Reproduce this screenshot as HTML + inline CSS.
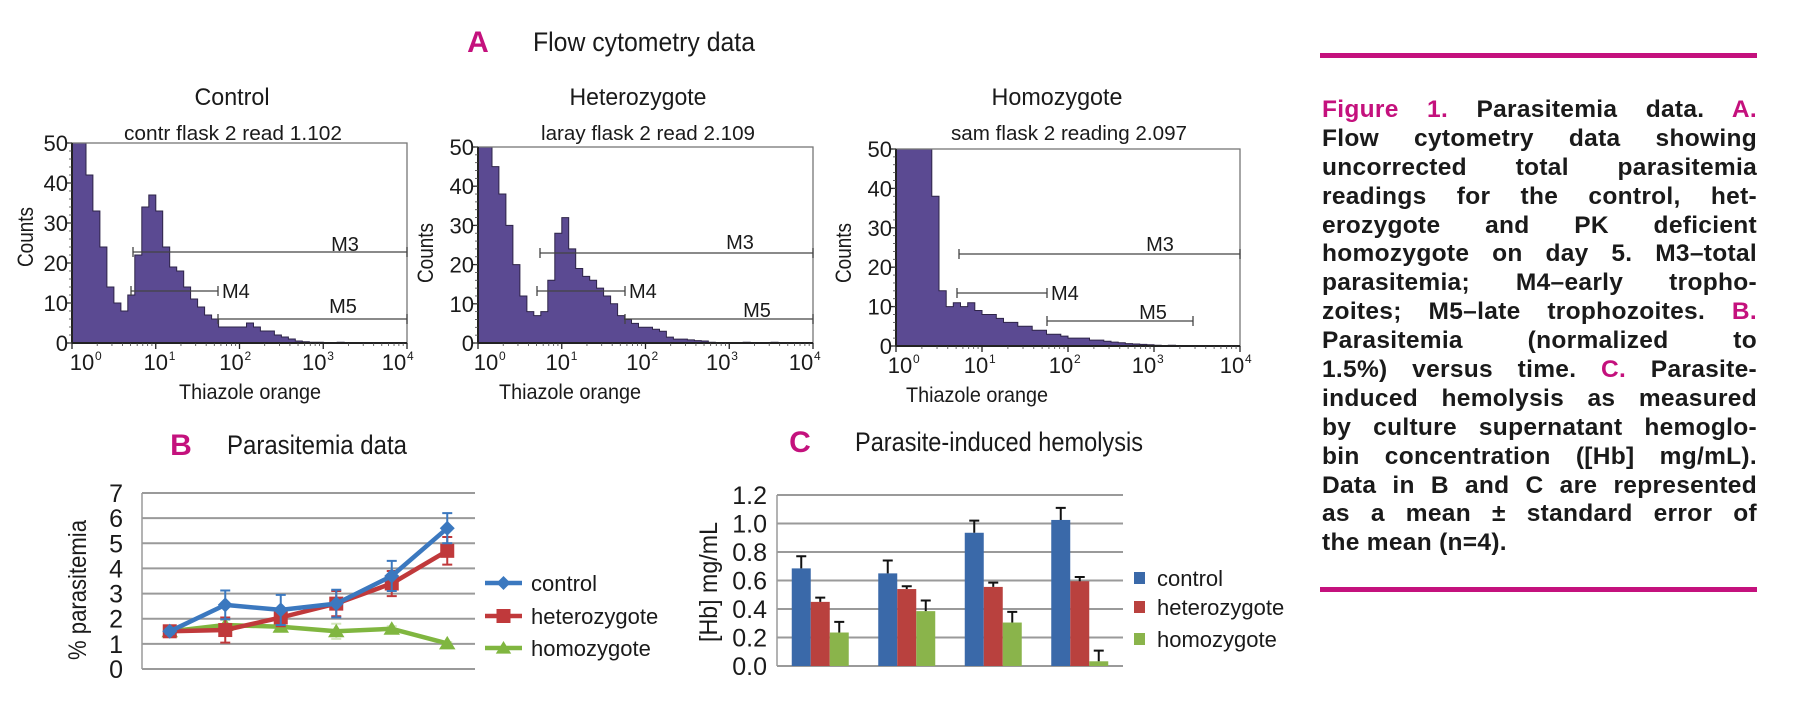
<!DOCTYPE html>
<html><head><meta charset="utf-8"><title>Figure 1 Parasitemia data</title>
<style>
html,body{margin:0;padding:0;background:#fff;}
body{width:1800px;height:717px;position:relative;overflow:hidden;}
svg{position:absolute;left:0;top:0;}
.t{font-family:"Liberation Sans Narrow","Liberation Sans",sans-serif;fill:#1a1a1a;}
#caption{position:absolute;left:1322px;top:96px;width:435px;font-family:"Liberation Sans",sans-serif;font-weight:bold;font-size:24.5px;letter-spacing:0.3px;color:#1a1a1a;}
#caption div{height:28.9px;line-height:28.9px;text-align:justify;text-align-last:justify;white-space:nowrap;}
#caption div.last{text-align-last:left;}
.m{color:#c4117d;}
.rule{position:absolute;left:1320px;width:437px;height:5px;background:#c4117d;}
</style></head>
<body>
<div class="rule" style="top:53px"></div>
<div class="rule" style="top:587px"></div>
<div id="caption">
<div><span class="m">Figure 1.</span> Parasitemia data. <span class="m">A.</span></div>
<div>Flow cytometry data showing</div>
<div>uncorrected total parasitemia</div>
<div>readings for the control, het-</div>
<div>erozygote and PK deficient</div>
<div>homozygote on day 5. M3–total</div>
<div>parasitemia; M4–early tropho-</div>
<div>zoites; M5–late trophozoites. <span class="m">B.</span></div>
<div>Parasitemia (normalized to</div>
<div>1.5%) versus time. <span class="m">C.</span> Parasite-</div>
<div>induced hemolysis as measured</div>
<div>by culture supernatant hemoglo-</div>
<div>bin concentration ([Hb] mg/mL).</div>
<div>Data in B and C are represented</div>
<div>as a mean ± standard error of</div>
<div class="last">the mean (n=4).</div>
</div>

<svg id="fig" width="1800" height="717" viewBox="0 0 1800 717" xmlns="http://www.w3.org/2000/svg">
<g>
<text class="t" x="478" y="52" font-size="30" font-weight="bold" style="fill:#c4117d" text-anchor="middle">A</text>
<text class="t" x="533" y="51" font-size="27" textLength="222" lengthAdjust="spacingAndGlyphs">Flow cytometry data</text>
</g>
<g>
<text class="t" x="181" y="455" font-size="30" font-weight="bold" style="fill:#c4117d" text-anchor="middle">B</text>
<text class="t" x="227" y="454" font-size="27" textLength="180" lengthAdjust="spacingAndGlyphs">Parasitemia data</text>
</g>
<g>
<text class="t" x="800" y="452" font-size="30" font-weight="bold" style="fill:#c4117d" text-anchor="middle">C</text>
<text class="t" x="855" y="451" font-size="27" textLength="288" lengthAdjust="spacingAndGlyphs">Parasite-induced hemolysis</text>
</g>
<g id="hists"></g>
<g id="chartB"></g>
<g id="chartC"></g>
</svg>

<script>
// ===== Panel A histogram data (counts per 1/12 decade bin, 10^0..10^4) =====
const histControl = [50,50,42,33,24,14,10,8,12,22,34,37, 33,24,19,18,14,11,9,7,6,4,4,4, 4,5,4,3,3,2,1.5,1,0.5,0.3,0.2,0.2, 0.1,0.1,0.2,0.1,0,0,0,0,0,0,0,0];
const histHetero  = [50,50,45,38,30,20,12,8,7,8,16,28, 32,24,19,17,16,14,12,10,7,6,5,4, 4,3.5,3,1.5,1,1,0.8,0.6,0.5,0.2,0.1,0.1, 0.1,0.1,0.2,0.1,0,0.1,0.2,0,0,0,0,0];
const histHomo    = [50,50,50,50,50,38,14,10,11,10,11,9, 8,8,7,6,6,5,5,4,4,3,3,2.5, 2,2,2,1.5,1.5,1.2,1,0.8,0.6,0.5,0.4,0.3, 0.2,0.1,0.2,0.1,0.1,0,0,0,0,0,0,0];
const histYTicks = [0,10,20,30,40,50];
const histXTicks = ["0","1","2","3","4"];

// ===== Panel B data =====
const daysB = ["d0","d1","d2","d3","d4","d5"];
const bControl = [1.5,2.55,2.35,2.6,3.7,5.6];
const bControlErr = [0.1,0.57,0.6,0.55,0.6,0.6];
const bHetero = [1.5,1.55,2.05,2.6,3.4,4.7];
const bHeteroErr = [0.1,0.5,0.35,0.5,0.5,0.55];
const bHomo = [1.5,1.75,1.68,1.5,1.6,1.02];
const bHomoErr = [0.1,0.2,0.15,0.3,0.1,0.05];
const bTicks = [0,1,2,3,4,5,6,7];
const bSeriesNames = ["control","heterozygote","homozygote"];

// ===== Panel C data =====
const groupsC = ["g1","g2","g3","g4"];
const cControl = [0.685,0.65,0.935,1.025];
const cControlErr = [0.085,0.09,0.085,0.085];
const cHetero = [0.45,0.54,0.555,0.595];
const cHeteroErr = [0.03,0.02,0.03,0.03];
const cHomo = [0.235,0.385,0.305,0.033];
const cHomoErr = [0.075,0.075,0.075,0.075];
const cTicks = ["0.0","0.2","0.4","0.6","0.8","1.0","1.2"];
const cSeriesNames = ["control","heterozygote","homozygote"];

const NS = "http://www.w3.org/2000/svg";
function mk(tag, attrs, parent){ const e=document.createElementNS(NS,tag); for(const k in attrs) e.setAttribute(k,attrs[k]); parent.appendChild(e); return e; }
function txt(parent, x, y, s, size, anchor, extra){ const e=mk("text",Object.assign({x:x,y:y,"font-size":size,"text-anchor":anchor||"start",class:"t"},extra||{}),parent); e.textContent=s; return e; }

// ---------- Histograms ----------
const hists = document.getElementById("hists");
const histCfg = [
 {name:"control", data:histControl, x0:72, x1:407, top:143, zero:343, title:"Control", tx:232, sub:"contr flask 2 read 1.102", sx:233, sw:218, tw:75, cx:25, cy:237, thx:250,
  m3:[133,407,252,345,244], m4:[131,218,291], m5:[218,407,319,343,306], xlOff:[14,4,-4,-5,-9]},
 {name:"heterozygote", data:histHetero, x0:478, x1:813, top:147, zero:343, title:"Heterozygote", tx:638, sub:"laray flask 2 read 2.109", sx:648, sw:214, tw:137, cx:425, cy:253, thx:570,
  m3:[540,813,253,740,242], m4:[537,625,291], m5:[625,813,319,757,310], xlOff:[12,0,-3,-7,-8]},
 {name:"homozygote", data:histHomo, x0:896, x1:1240, top:149, zero:346, title:"Homozygote", tx:1057, sub:"sam flask 2 reading 2.097", sx:1069, sw:236, tw:131, cx:843, cy:253, thx:977,
  m3:[959,1240,254,1160,244], m4:[957,1047,293], m5:[1047,1193,321,1153,312], xlOff:[8,-2,-3,-6,-4]}
];
histCfg.forEach(function(c){
  const g = mk("g",{},hists);
  
  
  const dec = (c.x1-c.x0)/4, bw = dec/12, ppc = (c.zero-c.top)/50;
  const tt = txt(g, c.tx, 105, c.title, 24, "middle", {textLength:c.tw, lengthAdjust:"spacingAndGlyphs"});
  
  
  const st = txt(g, c.sx, 140, c.sub, 20, "middle", {textLength:c.sw, lengthAdjust:"spacingAndGlyphs"});
  
  
  let d = "M"+c.x0+","+c.zero;
  c.data.forEach(function(v,i){
    const y = c.zero - Math.min(v,50)*ppc;
    d += " L"+(c.x0+i*bw).toFixed(1)+","+y.toFixed(1)+" L"+(c.x0+(i+1)*bw).toFixed(1)+","+y.toFixed(1);
  });
  d += " L"+c.x1+","+c.zero+" Z";
  const p = mk("path",{d:d, fill:"#5b4a92", stroke:"#2e2448", "stroke-width":"1"},g);
  
  
  const fr = mk("rect",{x:c.x0,y:c.top,width:c.x1-c.x0,height:c.zero-c.top,fill:"none",stroke:"#777","stroke-width":"1.3"},g);
  
  
  mk("line",{x1:c.x0,y1:c.top,x2:c.x0,y2:c.zero,stroke:"#222","stroke-width":"2"},g);
  mk("line",{x1:c.x0,y1:c.zero,x2:c.x1,y2:c.zero,stroke:"#222","stroke-width":"2"},g);
  histYTicks.forEach(function(t){
    const y = c.zero - t*ppc;
    const lb = txt(g, c.x0-4, y+8, String(t), 22, "end");
    
    
    mk("line",{x1:c.x0-5,y1:y,x2:c.x0,y2:y,stroke:"#222","stroke-width":"1.3"},g);
  });
  for(let t=0;t<=50;t+=2){ const y=c.zero-t*ppc; mk("line",{x1:c.x0-3,y1:y,x2:c.x0,y2:y,stroke:"#444","stroke-width":"0.8"},g); }
  histXTicks.forEach(function(t,i){
    const x = c.x0 + i*dec;
    mk("line",{x1:x,y1:c.zero,x2:x,y2:c.zero+6,stroke:"#222","stroke-width":"1.3"},g);
    const lb = txt(g, x + c.xlOff[i] - 4, c.zero+27, "10", 22, "middle");
    
    
    txt(g, x + c.xlOff[i] + 9, c.zero+17, t, 12, "start");
    if(i<4){ for(let k=2;k<10;k++){ const xm=x+Math.log10(k)*dec; mk("line",{x1:xm,y1:c.zero,x2:xm,y2:c.zero+3,stroke:"#444","stroke-width":"0.8"},g);} }
  });
  const xt = txt(g, c.thx, c.zero+56, "Thiazole orange", 21, "middle", {textLength:142, lengthAdjust:"spacingAndGlyphs"});
  
  
  const yt = txt(g, 0, 0, "Counts", 22, "middle", {transform:"translate("+(c.cx+8)+","+c.cy+") rotate(-90)", textLength:60, lengthAdjust:"spacingAndGlyphs"});
  
  
  [["M3",c.m3],["M4",c.m4],["M5",c.m5]].forEach(function(mm){
    const a = mm[1];
    const mg = mk("g",{},g);
    
    
    mk("line",{x1:a[0],y1:a[2],x2:a[1],y2:a[2],stroke:"#444","stroke-width":"1.3"},mg);
    mk("line",{x1:a[0],y1:a[2]-5,x2:a[0],y2:a[2]+5,stroke:"#444","stroke-width":"1.3"},mg);
    mk("line",{x1:a[1],y1:a[2]-5,x2:a[1],y2:a[2]+5,stroke:"#444","stroke-width":"1.3"},mg);
    if(mm[0]==="M4") txt(mg, a[1]+4, a[2]+7, "M4", 20, "start");
    else txt(mg, a[3], a[4]+7, mm[0], 20, "middle");
  });
});

// ---------- Panel B ----------
const gB = document.getElementById("chartB");
const bL=142, bR=475, bY0=669, bY7=493;
function xB(i){ return bL + (bR-bL)/daysB.length*(i+0.5); }
function yB(v){ return bY0 - (bY0-bY7)*v/7; }
bTicks.forEach(function(t){
  const y=yB(t);
  const gl = mk("line",{x1:bL,y1:y,x2:bR,y2:y,stroke:"#9a9a9a","stroke-width":"2"},gB);
  
  
  const lb = txt(gB, 123, y+9, String(t), 25, "end");
  
  
});
mk("line",{x1:bL,y1:bY7,x2:bL,y2:bY0,stroke:"#9a9a9a","stroke-width":"1.5"},gB);
const bYT = txt(gB, 0, 0, "% parasitemia", 25, "middle", {transform:"translate(86,590) rotate(-90)", textLength:140, lengthAdjust:"spacingAndGlyphs"});


const bSeries = [
  {vals:bControl, err:bControlErr, col:"#3b78bf", mark:"diamond"},
  {vals:bHetero, err:bHeteroErr, col:"#c0393b", mark:"square"},
  {vals:bHomo, err:bHomoErr, col:"#80b640", mark:"triangle"}
];
function marker(parent, type, x, y, col, s){
  if(type==="diamond") return mk("path",{d:"M"+x+","+(y-s)+" L"+(x+s)+","+y+" L"+x+","+(y+s)+" L"+(x-s)+","+y+"Z",fill:col},parent);
  if(type==="square") return mk("rect",{x:x-s,y:y-s,width:2*s,height:2*s,fill:col},parent);
  return mk("path",{d:"M"+x+","+(y-s)+" L"+(x+s*1.1)+","+(y+s*0.8)+" L"+(x-s*1.1)+","+(y+s*0.8)+"Z",fill:col},parent);
}
bSeries.slice().reverse().forEach(function(s,ri){
  const idx = 2-ri;
  const sg = mk("g",{},gB);
  
  
  s.vals.forEach(function(v,i){
    const x=xB(i), e=s.err[i];
    const eb = mk("path",{d:"M"+x+","+yB(v+e)+" L"+x+","+yB(v-e)+" M"+(x-5)+","+yB(v+e)+" L"+(x+5)+","+yB(v+e)+" M"+(x-5)+","+yB(v-e)+" L"+(x+5)+","+yB(v-e),stroke:s.col,"stroke-width":"2",fill:"none",opacity:idx===2?"0.35":"1"},sg);
    
    
  });
  let d="";
  s.vals.forEach(function(v,i){ d += (i?" L":"M")+xB(i).toFixed(1)+","+yB(v).toFixed(1); });
  const ln = mk("path",{d:d,stroke:s.col,"stroke-width":"4.5",fill:"none","stroke-linejoin":"round"},sg);
  
  
  s.vals.forEach(function(v,i){
    const m = marker(sg, s.mark, xB(i), yB(v), s.col, idx===1?7:7.5);
    
    
  });
});
const legBY=[583,616,648];
bSeries.forEach(function(s,i){
  const lg = mk("g",{},gB);
  
  
  mk("line",{x1:485,y1:legBY[i],x2:522,y2:legBY[i],stroke:s.col,"stroke-width":"4.5"},lg);
  marker(lg, s.mark, 503.5, legBY[i], s.col, 7);
  txt(lg, 531, legBY[i]+8, bSeriesNames[i], 22, "start");
});

// ---------- Panel C ----------
const gC = document.getElementById("chartC");
const cL=777, cR=1123, cY0=666, cYT=495;
const grpW=(cR-cL)/groupsC.length, barW=19, grpPad=(grpW-3*barW)/2;
function xC(g,k){ return cL + grpW*g + grpPad + barW*k; }
function yC(v){ return cY0 - (cY0-cYT)*v/1.2; }
cTicks.forEach(function(t){
  const y=yC(parseFloat(t));
  const gl = mk("line",{x1:cL,y1:y,x2:cR,y2:y,stroke:"#9a9a9a","stroke-width":"2"},gC);
  
  
  const lb = txt(gC, 767, y+9, t, 25, "end");
  
  
});
mk("line",{x1:cL,y1:cYT,x2:cL,y2:cY0,stroke:"#9a9a9a","stroke-width":"1.5"},gC);
const cYTl = txt(gC, 0, 0, "[Hb] mg/mL", 25, "middle", {transform:"translate(717,582) rotate(-90)", textLength:120, lengthAdjust:"spacingAndGlyphs"});


const cSeries = [
  {vals:cControl, err:cControlErr, col:"#3a69a9"},
  {vals:cHetero, err:cHeteroErr, col:"#b9413e"},
  {vals:cHomo, err:cHomoErr, col:"#8ab44b"}
];
cSeries.forEach(function(s,k){
  s.vals.forEach(function(v,g){
    const x=xC(g,k);
    const r = mk("rect",{x:x,y:yC(v),width:barW,height:cY0-yC(v),fill:s.col},gC);
    
    
    const cx=x+barW/2, yt=yC(v+s.err[g]);
    const eb = mk("path",{d:"M"+cx+","+yC(v)+" L"+cx+","+yt+" M"+(cx-5)+","+yt+" L"+(cx+5)+","+yt,stroke:"#111","stroke-width":"2",fill:"none"},gC);
    
    
  });
});
const legCY=[578,607,639];
cSeries.forEach(function(s,i){
  const lg = mk("g",{},gC);
  
  
  mk("rect",{x:1134,y:legCY[i]-6,width:11,height:12,fill:s.col},lg);
  txt(lg, 1157, legCY[i]+8, cSeriesNames[i], 22, "start");
});
</script>
</body></html>
